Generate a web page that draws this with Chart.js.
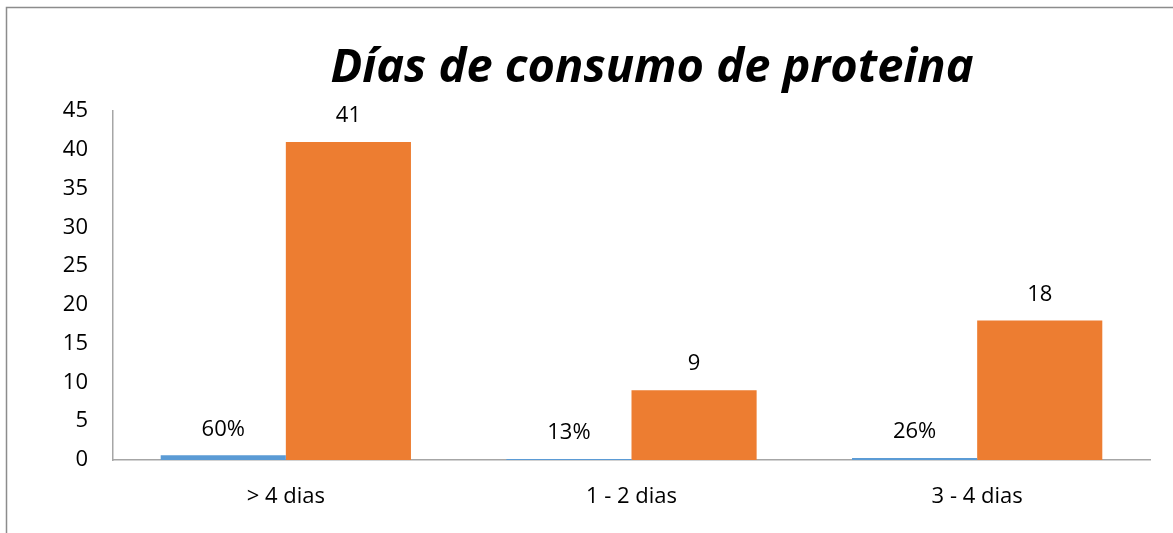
<!DOCTYPE html>
<html>
<head>
<meta charset="utf-8">
<script src="https://cdn.jsdelivr.net/npm/chart.js@4/dist/chart.umd.min.js"></script>
<style>
  html, body { margin: 0; padding: 0; background: #fff; }
  #wrap { width: 1173px; height: 533px; position: relative; }
</style>
</head>
<body>
<div id="wrap"><canvas id="chart"></canvas></div>
<script>
// Chart data
const categories = ['> 4 dias', '1 - 2 dias', '3 - 4 dias'];
const percentValues = [0.60, 0.13, 0.26];
const countValues = [41, 9, 18];
const yTicks = [0, 5, 10, 15, 20, 25, 30, 35, 40, 45];

const chartTitle = 'Días de consumo de proteina';
const FONT = '"Open Sans", "DejaVu Sans", sans-serif';

// frame + title + value labels
const decorPlugin = {
  id: 'decor',
  beforeDraw(chart) {
    const ctx = chart.ctx;
    ctx.save();
    ctx.strokeStyle = '#8c8c8c';
    ctx.lineWidth = 1.5;
    ctx.strokeRect(6.5, 7.5, 1250, 650);
    ctx.restore();
  },
  afterDatasetsDraw(chart) {
    const ctx = chart.ctx;
    ctx.save();
    ctx.font = '22px ' + FONT;
    ctx.fillStyle = '#000';
    ctx.textAlign = 'center';
    ctx.textBaseline = 'middle';
    chart.data.datasets.forEach((ds, i) => {
      chart.getDatasetMeta(i).data.forEach((bar, j) => {
        const v = ds.data[j];
        const txt = i === 0 ? Math.round(v * 100) + '%' : String(v);
        ctx.fillText(txt, bar.x, bar.y - 26);
      });
    });
    // title
    ctx.font = 'italic bold 47px ' + FONT;
    ctx.textBaseline = 'alphabetic';
    ctx.fillText(chartTitle, 652, 82);
    ctx.restore();
  }
};

new Chart(document.getElementById('chart'), {
  type: 'bar',
  data: {
    labels: categories,
    datasets: [
      {
        label: 'Porcentaje',
        data: percentValues,
        backgroundColor: '#5B9BD5',
        barPercentage: 1.0,
        categoryPercentage: 0.724
      },
      {
        label: 'Cantidad',
        data: countValues,
        backgroundColor: '#ED7D31',
        barPercentage: 1.0,
        categoryPercentage: 0.724
      }
    ]
  },
  options: {
    responsive: true,
    maintainAspectRatio: false,
    animation: false,
    layout: { padding: { top: 111, right: 23, bottom: 0, left: 0 } },
    plugins: {
      legend: { display: false },
      title: { display: false },
      tooltip: { enabled: false }
    },
    scales: {
      x: {
        afterFit(scale) { scale.height = 73; },
        grid: { display: false, drawTicks: false },
        border: { color: '#a6a6a6', width: 1.5 },
        ticks: { color: '#000', font: { family: FONT, size: 22 }, padding: 24 }
      },
      y: {
        min: 0,
        max: 45,
        afterBuildTicks(scale) { scale.ticks = yTicks.map(v => ({ value: v })); },
        afterFit(scale) { scale.width = 113; },
        grid: { display: false, drawTicks: false },
        border: { color: '#a6a6a6', width: 1.5 },
        ticks: { color: '#000', font: { family: FONT, size: 22 }, padding: 25 }
      }
    }
  },
  plugins: [decorPlugin]
});
</script>
</body>
</html>
